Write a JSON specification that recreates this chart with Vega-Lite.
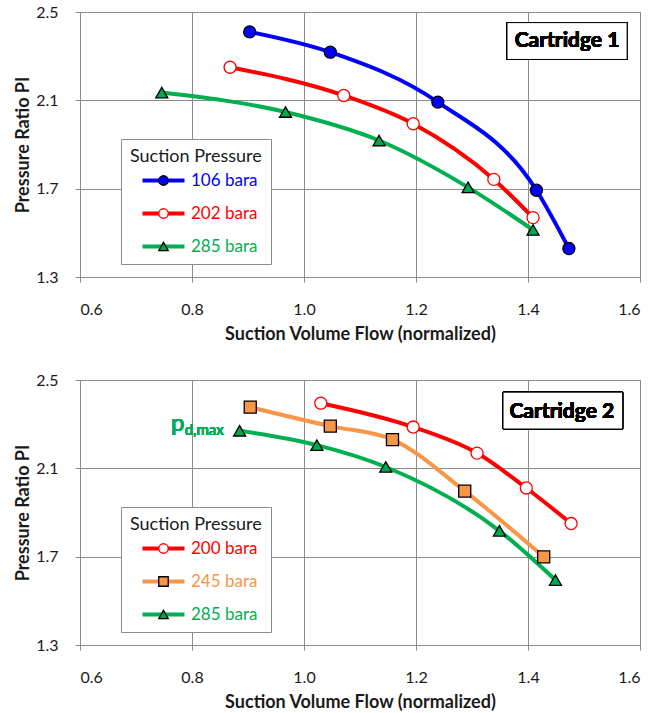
{
  "$schema": "https://vega.github.io/schema/vega-lite/v6.json",
  "padding": {"left": 14, "top": 3, "right": 5, "bottom": 5},
  "spacing": 27,
  "config": {
    "font": "Lato",
    "view": {"stroke": "#8c8c8c", "strokeWidth": 1},
    "axis": {
      "labelFont": "Lato", "labelFontSize": 16, "labelColor": "#1a1a1a",
      "titleFont": "Lato", "titleFontSize": 18, "titleFontWeight": "bold", "titleColor": "#1a1a1a",
      "gridColor": "#8c8c8c", "gridOpacity": 1, "gridWidth": 1,
      "domainColor": "#8c8c8c", "tickColor": "#8c8c8c", "tickSize": 5
    },
    "axisX": {"labelPadding": 19, "titlePadding": 8},
    "axisY": {"labelPadding": 17, "titlePadding": 3}
  },
  "datasets": {
    "c1": [
      {"series": "106 bara", "flow": 0.903, "pi": 2.41},
      {"series": "106 bara", "flow": 1.047, "pi": 2.318},
      {"series": "106 bara", "flow": 1.239, "pi": 2.092},
      {"series": "106 bara", "flow": 1.415, "pi": 1.693},
      {"series": "106 bara", "flow": 1.473, "pi": 1.429},
      {"series": "202 bara", "flow": 0.868, "pi": 2.25},
      {"series": "202 bara", "flow": 1.071, "pi": 2.122},
      {"series": "202 bara", "flow": 1.195, "pi": 1.994},
      {"series": "202 bara", "flow": 1.339, "pi": 1.742},
      {"series": "202 bara", "flow": 1.409, "pi": 1.569},
      {"series": "285 bara", "flow": 0.746, "pi": 2.135},
      {"series": "285 bara", "flow": 0.967, "pi": 2.047},
      {"series": "285 bara", "flow": 1.134, "pi": 1.918},
      {"series": "285 bara", "flow": 1.293, "pi": 1.706},
      {"series": "285 bara", "flow": 1.409, "pi": 1.513}
    ],
    "c2": [
      {"series": "200 bara", "flow": 1.03, "pi": 2.395},
      {"series": "200 bara", "flow": 1.195, "pi": 2.287},
      {"series": "200 bara", "flow": 1.309, "pi": 2.169},
      {"series": "200 bara", "flow": 1.397, "pi": 2.011},
      {"series": "200 bara", "flow": 1.477, "pi": 1.85},
      {"series": "245 bara", "flow": 0.904, "pi": 2.377},
      {"series": "245 bara", "flow": 1.047, "pi": 2.291},
      {"series": "245 bara", "flow": 1.158, "pi": 2.23},
      {"series": "245 bara", "flow": 1.287, "pi": 1.997},
      {"series": "245 bara", "flow": 1.428, "pi": 1.699},
      {"series": "285 bara", "flow": 0.885, "pi": 2.27},
      {"series": "285 bara", "flow": 1.023, "pi": 2.205},
      {"series": "285 bara", "flow": 1.146, "pi": 2.106},
      {"series": "285 bara", "flow": 1.349, "pi": 1.817},
      {"series": "285 bara", "flow": 1.449, "pi": 1.594}
    ]
  },
  "vconcat": [
    {
      "width": 560,
      "height": 265,
      "data": {"name": "c1"},
      "encoding": {
        "x": {"field": "flow", "type": "quantitative", "scale": {"domain": [0.6, 1.6], "zero": false, "nice": false},
              "axis": {"values": [0.6, 0.8, 1.0, 1.2, 1.4, 1.6], "format": ".1f", "title": "Suction Volume Flow (normalized)"}},
        "y": {"field": "pi", "type": "quantitative", "scale": {"domain": [1.3, 2.5], "zero": false, "nice": false},
              "axis": {"values": [1.3, 1.7, 2.1, 2.5], "format": ".1f", "title": "Pressure Ratio PI"}}
      },
      "layer": [
        {
          "mark": {"type": "line", "interpolate": "monotone", "strokeWidth": 4},
          "encoding": {
            "color": {"field": "series", "type": "nominal",
              "scale": {"domain": ["106 bara", "202 bara", "285 bara"], "range": ["#0000ff", "#ff0000", "#00b050"]},
              "legend": {"title": "Suction Pressure", "orient": "none", "legendX": 41, "legendY": 127,
                "fillColor": "white", "strokeColor": "#8c8c8c", "padding": 9,
                "symbolType": "M-4.2,0L4.2,0", "symbolSize": 100, "symbolStrokeWidth": 4, "symbolOffset": 25,
                "labelFontSize": 17, "labelOffset": 19, "titleFontSize": 18, "titleFontWeight": "normal", "titleColor": "#1a1a1a",
                "rowPadding": 15, "titlePadding": 6,
                "encode": {"labels": {"update": {"fill": {"signal": "datum.label === '106 bara' ? '#0000ff' : datum.label === '202 bara' ? '#ff0000' : '#00b050'"}}}}}
            }
          }
        },
        {
          "mark": {"type": "point", "filled": true, "size": 145, "strokeWidth": 1.3, "opacity": 1},
          "encoding": {
            "fill": {"field": "series", "type": "nominal", "scale": {"range": ["#0000ff", "#ffffff", "#00a850"]},
              "legend": {"title": " ", "orient": "none", "legendX": 41, "legendY": 127, "padding": 9,
                "symbolSize": 90, "symbolStrokeWidth": 1.3, "symbolOffset": 25, "labelExpr": "' '", "labelFontSize": 17, "titleFontSize": 18,
                "rowPadding": 15, "titlePadding": 6}},
            "shape": {"field": "series", "type": "nominal", "scale": {"range": ["circle", "circle", "triangle-up"]},
              "legend": {"title": " ", "orient": "none", "legendX": 41, "legendY": 127, "padding": 9,
                "symbolSize": 90, "symbolStrokeWidth": 1.3, "symbolOffset": 25, "labelExpr": "' '", "labelFontSize": 17, "titleFontSize": 18,
                "rowPadding": 15, "titlePadding": 6}},
            "stroke": {"field": "series", "type": "nominal", "scale": {"range": ["#000000", "#ff0000", "#000000"]},
              "legend": {"title": " ", "orient": "none", "legendX": 41, "legendY": 127, "padding": 9,
                "symbolSize": 90, "symbolStrokeWidth": 1.3, "symbolOffset": 25, "labelExpr": "' '", "labelFontSize": 17, "titleFontSize": 18,
                "rowPadding": 15, "titlePadding": 6}}
          }
        },
        {
          "mark": {"type": "rect", "fill": "white", "stroke": "black", "strokeWidth": 1},
          "encoding": {"x": {"datum": 1.3625}, "x2": {"datum": 1.577}, "y": {"datum": 2.452}, "y2": {"datum": 2.285}}
        },
        {
          "mark": {"type": "text", "text": "Cartridge 1", "font": "Lato", "fontSize": 21, "fontWeight": "bold", "color": "black", "align": "center", "baseline": "middle"},
          "encoding": {"x": {"datum": 1.4696}, "y": {"datum": 2.369}}
        }
      ],
      "resolve": {"scale": {"color": "independent", "fill": "independent", "shape": "independent", "stroke": "independent"}}
    },
    {
      "width": 560,
      "height": 265,
      "data": {"name": "c2"},
      "encoding": {
        "x": {"field": "flow", "type": "quantitative", "scale": {"domain": [0.6, 1.6], "zero": false, "nice": false},
              "axis": {"values": [0.6, 0.8, 1.0, 1.2, 1.4, 1.6], "format": ".1f", "title": "Suction Volume Flow (normalized)"}},
        "y": {"field": "pi", "type": "quantitative", "scale": {"domain": [1.3, 2.5], "zero": false, "nice": false},
              "axis": {"values": [1.3, 1.7, 2.1, 2.5], "format": ".1f", "title": "Pressure Ratio PI"}}
      },
      "layer": [
        {
          "mark": {"type": "line", "interpolate": "monotone", "strokeWidth": 4},
          "encoding": {
            "color": {"field": "series", "type": "nominal",
              "scale": {"domain": ["200 bara", "245 bara", "285 bara"], "range": ["#ff0000", "#f79646", "#00b050"]},
              "legend": {"title": "Suction Pressure", "orient": "none", "legendX": 41, "legendY": 127,
                "fillColor": "white", "strokeColor": "#8c8c8c", "padding": 9,
                "symbolType": "M-4.2,0L4.2,0", "symbolSize": 100, "symbolStrokeWidth": 4, "symbolOffset": 25,
                "labelFontSize": 17, "labelOffset": 19, "titleFontSize": 18, "titleFontWeight": "normal", "titleColor": "#1a1a1a",
                "rowPadding": 15, "titlePadding": 6,
                "encode": {"labels": {"update": {"fill": {"signal": "datum.label === '200 bara' ? '#ff0000' : datum.label === '245 bara' ? '#f79646' : '#00b050'"}}}}}
            }
          }
        },
        {
          "mark": {"type": "point", "filled": true, "size": 145, "strokeWidth": 1.3, "opacity": 1},
          "encoding": {
            "fill": {"field": "series", "type": "nominal", "scale": {"range": ["#ffffff", "#f79646", "#00a850"]},
              "legend": {"title": " ", "orient": "none", "legendX": 41, "legendY": 127, "padding": 9,
                "symbolSize": 90, "symbolStrokeWidth": 1.3, "symbolOffset": 25, "labelExpr": "' '", "labelFontSize": 17, "titleFontSize": 18,
                "rowPadding": 15, "titlePadding": 6}},
            "shape": {"field": "series", "type": "nominal", "scale": {"range": ["circle", "square", "triangle-up"]},
              "legend": {"title": " ", "orient": "none", "legendX": 41, "legendY": 127, "padding": 9,
                "symbolSize": 90, "symbolStrokeWidth": 1.3, "symbolOffset": 25, "labelExpr": "' '", "labelFontSize": 17, "titleFontSize": 18,
                "rowPadding": 15, "titlePadding": 6}},
            "stroke": {"field": "series", "type": "nominal", "scale": {"range": ["#ff0000", "#000000", "#000000"]},
              "legend": {"title": " ", "orient": "none", "legendX": 41, "legendY": 127, "padding": 9,
                "symbolSize": 90, "symbolStrokeWidth": 1.3, "symbolOffset": 25, "labelExpr": "' '", "labelFontSize": 17, "titleFontSize": 18,
                "rowPadding": 15, "titlePadding": 6}}
          }
        },
        {
          "mark": {"type": "rect", "fill": "white", "stroke": "black", "strokeWidth": 1},
          "encoding": {"x": {"datum": 1.3554}, "x2": {"datum": 1.569}, "y": {"datum": 2.445}, "y2": {"datum": 2.278}}
        },
        {
          "mark": {"type": "text", "text": "Cartridge 2", "font": "Lato", "fontSize": 21, "fontWeight": "bold", "color": "black", "align": "center", "baseline": "middle"},
          "encoding": {"x": {"datum": 1.4604}, "y": {"datum": 2.354}}
        },
        {
          "mark": {"type": "text", "text": "p", "font": "Lato", "fontSize": 24, "color": "#00b050", "align": "left", "baseline": "alphabetic"},
          "encoding": {"x": {"datum": 0.7625}, "y": {"datum": 2.267}}
        },
        {
          "mark": {"type": "text", "text": "d,max", "font": "Lato", "fontSize": 15, "color": "#00b050", "align": "left", "baseline": "alphabetic"},
          "encoding": {"x": {"datum": 0.787}, "y": {"datum": 2.249}}
        }
      ],
      "resolve": {"scale": {"color": "independent", "fill": "independent", "shape": "independent", "stroke": "independent"}}
    }
  ],
  "resolve": {"scale": {"color": "independent", "fill": "independent", "shape": "independent", "stroke": "independent"}}
}
